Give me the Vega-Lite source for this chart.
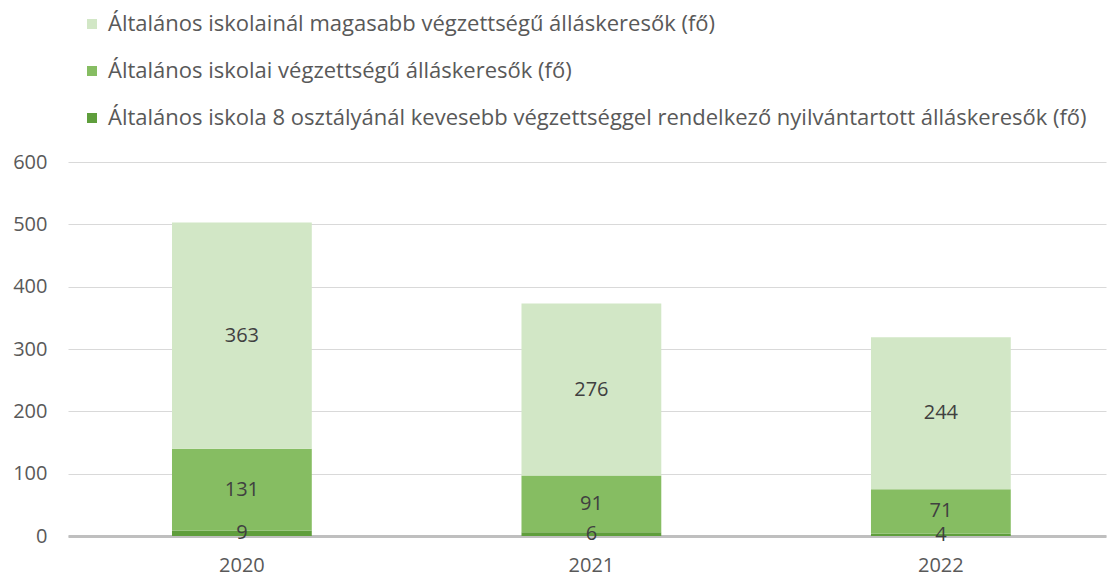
{
  "$schema": "https://vega.github.io/schema/vega-lite/v6.json",
  "width": 1038,
  "height": 374,
  "autosize": {"type": "none"},
  "padding": {"left": 68, "top": 162, "right": 1, "bottom": 42},
  "background": "white",
  "config": {
    "font": "Open Sans",
    "view": {"stroke": null}
  },
  "data": {
    "values": [
      {"year": "2020", "cat": "Általános iskola 8 osztályánál kevesebb végzettséggel rendelkező nyilvántartott álláskeresők (fő)", "ord": 1, "value": 9},
      {"year": "2020", "cat": "Általános iskolai végzettségű álláskeresők (fő)", "ord": 2, "value": 131},
      {"year": "2020", "cat": "Általános iskolainál magasabb végzettségű álláskeresők (fő)", "ord": 3, "value": 363},
      {"year": "2021", "cat": "Általános iskola 8 osztályánál kevesebb végzettséggel rendelkező nyilvántartott álláskeresők (fő)", "ord": 1, "value": 6},
      {"year": "2021", "cat": "Általános iskolai végzettségű álláskeresők (fő)", "ord": 2, "value": 91},
      {"year": "2021", "cat": "Általános iskolainál magasabb végzettségű álláskeresők (fő)", "ord": 3, "value": 276},
      {"year": "2022", "cat": "Általános iskola 8 osztályánál kevesebb végzettséggel rendelkező nyilvántartott álláskeresők (fő)", "ord": 1, "value": 4},
      {"year": "2022", "cat": "Általános iskolai végzettségű álláskeresők (fő)", "ord": 2, "value": 71},
      {"year": "2022", "cat": "Általános iskolainál magasabb végzettségű álláskeresők (fő)", "ord": 3, "value": 244}
    ]
  },
  "transform": [
    {"stack": "value", "groupby": ["year"], "sort": [{"field": "ord", "order": "ascending"}], "as": ["y0", "y1"]},
    {"calculate": "(datum.y0 + datum.y1) / 2", "as": "mid"}
  ],
  "encoding": {
    "x": {
      "field": "year",
      "type": "nominal",
      "scale": {"paddingInner": 0.6, "paddingOuter": 0.285, "align": 0.522},
      "axis": {
        "title": null,
        "labelAngle": 0,
        "labelFontSize": 20,
        "labelColor": "#595959",
        "labelPadding": 19,
        "ticks": false,
        "domainColor": "#bfbfbf",
        "domainWidth": 3,
        "grid": false
      }
    }
  },
  "layer": [
    {
      "mark": {"type": "bar"},
      "encoding": {
        "y": {
          "field": "y0",
          "type": "quantitative",
          "scale": {"domain": [0, 600]},
          "axis": {
            "title": null,
            "values": [0, 100, 200, 300, 400, 500, 600],
            "labelFontSize": 20,
            "labelColor": "#595959",
            "labelPadding": 21,
            "ticks": false,
            "domain": false,
            "gridColor": "#d9d9d9",
            "gridWidth": 1
          }
        },
        "y2": {"field": "y1"},
        "color": {
          "field": "cat",
          "type": "nominal",
          "sort": [
            "Általános iskolainál magasabb végzettségű álláskeresők (fő)",
            "Általános iskolai végzettségű álláskeresők (fő)",
            "Általános iskola 8 osztályánál kevesebb végzettséggel rendelkező nyilvántartott álláskeresők (fő)"
          ],
          "scale": {
            "domain": [
              "Általános iskolainál magasabb végzettségű álláskeresők (fő)",
              "Általános iskolai végzettségű álláskeresők (fő)",
              "Általános iskola 8 osztályánál kevesebb végzettséggel rendelkező nyilvántartott álláskeresők (fő)"
            ],
            "range": ["#d2e7c6", "#86bd62", "#5f9e3c"]
          },
          "legend": {
            "title": null,
            "orient": "none",
            "legendX": 13,
            "legendY": -149,
            "direction": "vertical",
            "symbolType": "square",
            "symbolSize": 100,
            "symbolStrokeWidth": 0,
            "labelFontSize": 22,
            "labelColor": "#595959",
            "labelLimit": 1100,
            "labelOffset": 5,
            "rowPadding": 25
          }
        }
      }
    },
    {
      "mark": {"type": "text", "fontSize": 20, "color": "#404040", "baseline": "middle", "align": "center"},
      "encoding": {
        "y": {"field": "mid", "type": "quantitative"},
        "text": {"field": "value", "type": "quantitative"}
      }
    }
  ]
}
